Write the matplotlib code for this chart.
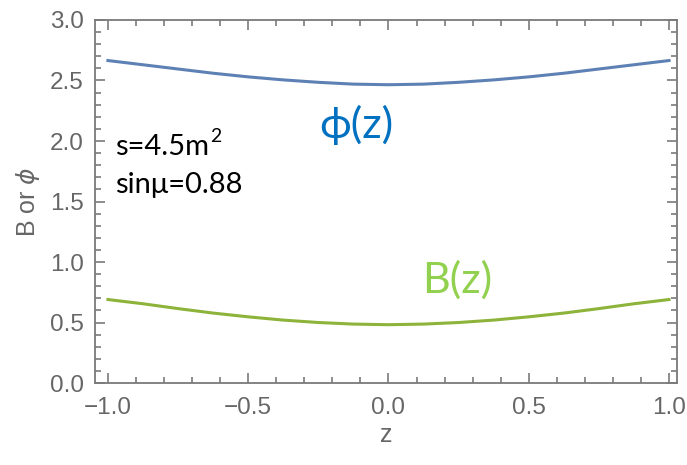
import matplotlib
matplotlib.use('Agg')
import matplotlib.pyplot as plt
from matplotlib.ticker import MultipleLocator

# values
z = [-1.0, -0.875, -0.75, -0.625, -0.5, -0.375, -0.25, -0.125, 0.0,
     0.125, 0.25, 0.375, 0.5, 0.625, 0.75, 0.875, 1.0]
phi = [2.665, 2.63, 2.595, 2.56, 2.53, 2.505, 2.485, 2.47, 2.465,
       2.47, 2.485, 2.505, 2.53, 2.56, 2.595, 2.63, 2.665]
B = [0.69, 0.655, 0.615, 0.578, 0.547, 0.52, 0.50, 0.487, 0.482,
     0.487, 0.50, 0.52, 0.547, 0.578, 0.615, 0.655, 0.69]

gray = '#7a7a7a'
plt.rcParams['font.family'] = ['Liberation Sans', 'DejaVu Sans']

fig = plt.figure(figsize=(6.87, 4.65), dpi=100)
ax = fig.add_axes([0.1383, 0.1763, 0.8472, 0.7807])

ax.plot(z, phi, color='#5E81B5', lw=2.2)
ax.plot(z, B, color='#8DB33A', lw=2.2)

ax.set_xlim(-1.046, 1.0285)
ax.set_ylim(0, 3.0)
ax.xaxis.set_major_locator(MultipleLocator(0.5))
ax.xaxis.set_minor_locator(MultipleLocator(0.1))
ax.yaxis.set_major_locator(MultipleLocator(0.5))
ax.yaxis.set_minor_locator(MultipleLocator(0.1))
ax.xaxis.set_major_formatter(lambda v, p: ('%.1f' % v).replace('-', '\u2212'))
ax.yaxis.set_major_formatter(lambda v, p: '%.1f' % v)

ax.tick_params(which='both', direction='in', top=True, right=True,
               color=gray, labelcolor='#666666', labelsize=17.5, width=1.2)
ax.tick_params(which='major', length=7)
ax.tick_params(which='minor', length=4)
ax.tick_params(axis='x', which='major', pad=10)
ax.tick_params(axis='y', which='major', pad=8)
for sp in ax.spines.values():
    sp.set_color(gray)
    sp.set_linewidth(1.3)

ax.set_xlabel('z', fontsize=18, color='#666666', labelpad=3)
ax.set_ylabel(r'B or $\phi$', fontsize=18, color='#666666', labelpad=6)

# annotations
txt = ['Lato', 'DejaVu Sans']
s_txt = fig.text(0.167, 0.684, 's=4.5m', fontsize=21, family=txt, va='center')
fig.text(0.167, 0.602, 'sin\u03bc=0.88', fontsize=21, family=txt, va='center')
fig.text(0.465, 0.731, '\u03d5(z)', fontsize=31, family=txt, color='#0070C0', va='center')
fig.text(0.615, 0.398, 'B(z)', fontsize=31, family=txt, color='#92D050', va='center')

# superscript 2 placed right after "m"
fig.canvas.draw()
bb = s_txt.get_window_extent().transformed(fig.transFigure.inverted())
fig.text(bb.x1 + 0.002, 0.684 + 0.022, '2', fontsize=14, family=txt, va='center')

fig.savefig('out.png', dpi=100)
